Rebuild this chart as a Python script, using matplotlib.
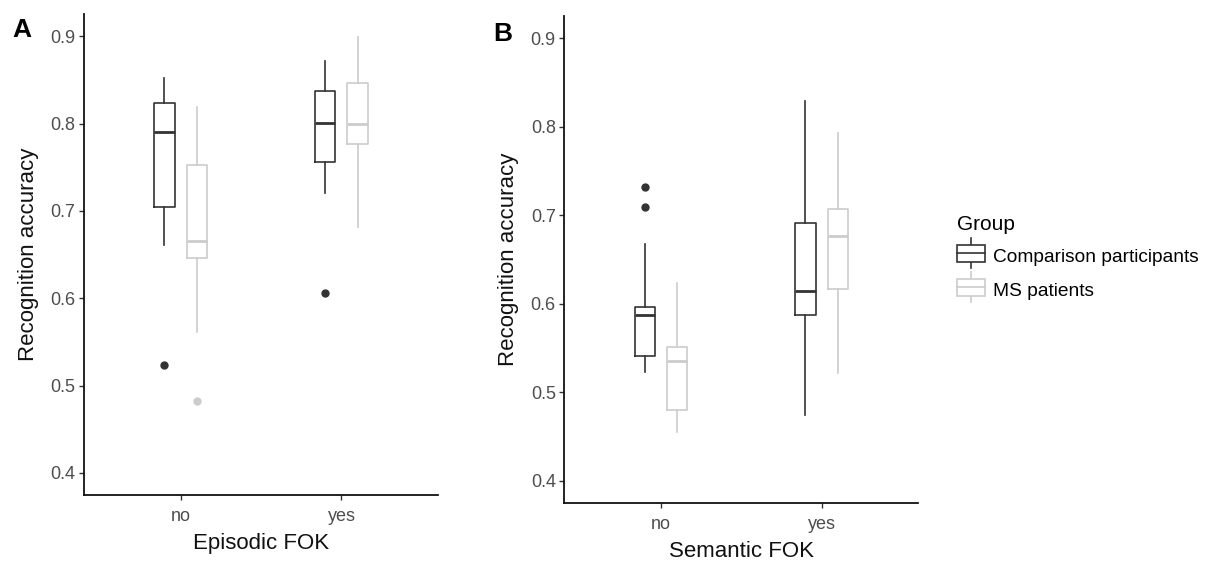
import matplotlib
matplotlib.use("Agg")
import matplotlib.pyplot as plt
from matplotlib.lines import Line2D
from matplotlib.patches import Rectangle
from matplotlib.legend_handler import HandlerBase

plt.rcParams['font.family'] = ['Liberation Sans', 'DejaVu Sans']

# ---------------- data ----------------
categories = ["no", "yes"]
groups = ["Comparison participants", "MS patients"]
group_colors = ["#333333", "#CCCCCC"]
yticks = [0.4, 0.5, 0.6, 0.7, 0.8, 0.9]

# Panel A: Episodic FOK (values per category: no, yes)
a_comp_whislo = [0.661, 0.720]
a_comp_q1 = [0.704, 0.756]
a_comp_med = [0.790, 0.801]
a_comp_q3 = [0.823, 0.837]
a_comp_whishi = [0.852, 0.872]
a_comp_fliers = [[0.524], [0.6065]]

a_ms_whislo = [0.561, 0.682]
a_ms_q1 = [0.646, 0.777]
a_ms_med = [0.666, 0.799]
a_ms_q3 = [0.753, 0.847]
a_ms_whishi = [0.819, 0.899]
a_ms_fliers = [[0.4825], []]

# Panel B: Semantic FOK
b_comp_whislo = [0.5226, 0.474]
b_comp_q1 = [0.541, 0.5875]
b_comp_med = [0.587, 0.614]
b_comp_q3 = [0.596, 0.691]
b_comp_whishi = [0.668, 0.829]
b_comp_fliers = [[0.709, 0.732], []]

b_ms_whislo = [0.455, 0.522]
b_ms_q1 = [0.480, 0.617]
b_ms_med = [0.535, 0.677]
b_ms_q3 = [0.551, 0.707]
b_ms_whishi = [0.623, 0.793]
b_ms_fliers = [[], []]


def make_stats(whislo, q1, med, q3, whishi, fliers):
    return [dict(whislo=whislo[i], q1=q1[i], med=med[i], q3=q3[i],
                 whishi=whishi[i], fliers=fliers[i]) for i in range(len(med))]


panel_A = [make_stats(a_comp_whislo, a_comp_q1, a_comp_med, a_comp_q3, a_comp_whishi, a_comp_fliers),
           make_stats(a_ms_whislo, a_ms_q1, a_ms_med, a_ms_q3, a_ms_whishi, a_ms_fliers)]
panel_B = [make_stats(b_comp_whislo, b_comp_q1, b_comp_med, b_comp_q3, b_comp_whishi, b_comp_fliers),
           make_stats(b_ms_whislo, b_ms_q1, b_ms_med, b_ms_q3, b_ms_whishi, b_ms_fliers)]

# ---------------- figure ----------------
W, H = 1212, 563
fig = plt.figure(figsize=(W / 100, H / 100), dpi=100)


def px_axes(left, top, right, bottom):
    return fig.add_axes([left / W, 1 - bottom / H, (right - left) / W, (bottom - top) / H])


axA = px_axes(84, 14.4, 438, 494.8)
axB = px_axes(564.3, 16.2, 918, 502.7)

offsets = [-0.1, 0.1]
box_w = 0.125
base_pos = [1, 2]


def draw_panel(ax, panel, xlabel):
    for g, stats in enumerate(panel):
        c = group_colors[g]
        pos = [p + offsets[g] for p in base_pos]
        ax.bxp(stats, positions=pos, widths=box_w, showcaps=False,
               boxprops=dict(color=c, linewidth=1.2),
               whiskerprops=dict(color=c, linewidth=1.2),
               medianprops=dict(color=c, linewidth=2.0),
               flierprops=dict(marker='o', markerfacecolor=c, markeredgecolor=c,
                               markersize=5, linestyle='none'),
               manage_ticks=False)
    ax.set_xlim(0.4, 2.6)
    ax.set_ylim(0.375, 0.925)
    ax.set_xticks(base_pos)
    ax.set_xticklabels(categories)
    ax.set_yticks(yticks)
    ax.set_yticklabels([f"{t:.1f}" for t in yticks])
    for s in ["top", "right"]:
        ax.spines[s].set_visible(False)
    for s in ["left", "bottom"]:
        ax.spines[s].set_linewidth(1.3)
        ax.spines[s].set_color("#111111")
    ax.tick_params(direction='out', length=3.6, width=1.0, color='#333333',
                   labelcolor='#4D4D4D', labelsize=13)
    ax.tick_params(axis='y', pad=2.5)
    ax.tick_params(axis='x', pad=6)
    ax.set_xlabel(xlabel, fontsize=16, labelpad=5.5, color='#111111')
    ax.set_ylabel("Recognition accuracy", fontsize=16, labelpad=8.5, color='#111111')


draw_panel(axA, panel_A, "Episodic FOK")
draw_panel(axB, panel_B, "Semantic FOK")

fig.text(12 / W, 1 - 37 / H, "A", fontsize=19, fontweight='bold', va='baseline', ha='left')
fig.text(493 / W, 1 - 41 / H, "B", fontsize=19, fontweight='bold', va='baseline', ha='left')


class BoxHandler(HandlerBase):
    def create_artists(self, legend, orig_handle, xdescent, ydescent, width,
                       height, fontsize, trans):
        c = orig_handle.get_color()
        x0, y0 = -xdescent, -ydescent
        total = height + ydescent
        cx = x0 + width / 2
        whisk = Line2D([cx, cx], [y0, y0 + total], color=c, lw=1.2, transform=trans)
        rect = Rectangle((x0, y0 + 0.205 * total), width, 0.59 * total,
                         facecolor='white', edgecolor=c, lw=1.2, transform=trans)
        med = Line2D([x0, x0 + width], [y0 + total / 2] * 2, color=c, lw=1.2,
                     transform=trans)
        return [whisk, rect, med]


handles = [Line2D([], [], color=c) for c in group_colors]
LEG_FS = 13.8


def build_legend(spacing, anchor_top):
    return fig.legend(handles, groups, title="Group", loc="upper left",
                      bbox_to_anchor=(957 / W, 1 - anchor_top / H), frameon=False,
                      fontsize=LEG_FS, title_fontsize=15, handlelength=1.45,
                      handleheight=1.55, handletextpad=0.45, labelspacing=spacing,
                      borderpad=0, borderaxespad=0, alignment='left',
                      handler_map={Line2D: BoxHandler()})


def label_centers(leg):
    fig.canvas.draw()
    r = fig.canvas.get_renderer()
    out = []
    for t in leg.get_texts():
        bb = t.get_window_extent(r)
        out.append(H - (bb.y0 + bb.y1) / 2)
    return out


# fit the legend row pitch and position to the reference layout
target_first, target_pitch = 258.0, 34.0
spacing, anchor_top = 0.34, 213.0
leg = build_legend(spacing, anchor_top)
c = label_centers(leg)
fs_px = LEG_FS * 100 / 72
spacing = max(0.0, spacing + (target_pitch - (c[1] - c[0])) / fs_px)
leg.remove()
leg = build_legend(spacing, anchor_top)
c = label_centers(leg)
anchor_top += target_first - c[0]
leg.remove()
leg = build_legend(spacing, anchor_top)

fig.savefig("out.png", dpi=100)
